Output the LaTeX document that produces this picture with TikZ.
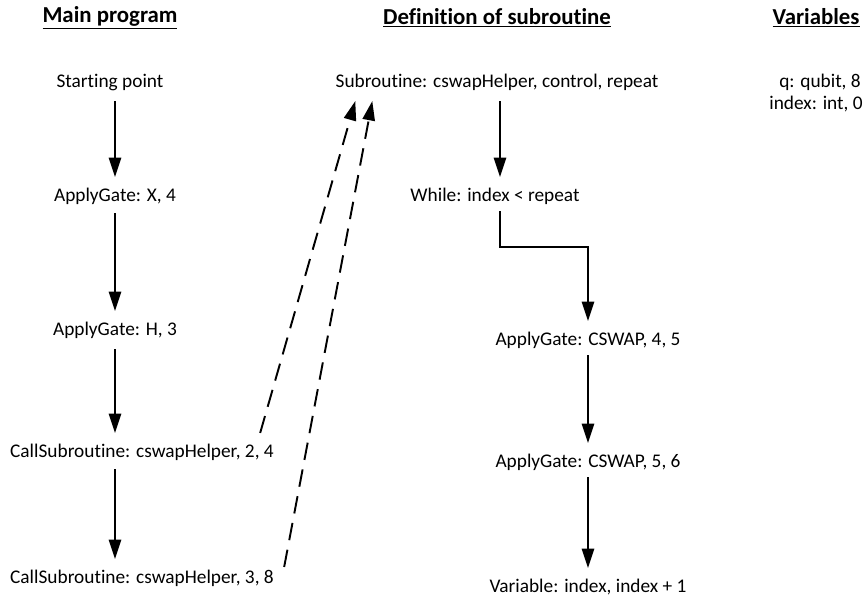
\documentclass[tikz,border=0pt]{standalone}
\usepackage{fontspec}
\setmainfont{Carlito}[Ligatures=NoCommon]
\usetikzlibrary{%
  arrows.meta%
  ,calc%
  ,positioning
}
\tikzset{
  txt/.style={inner xsep=0pt,inner ysep=5.5pt,text height=8pt,text depth=2.3pt,font=\fontsize{11}{13}\selectfont},
  hdr/.style={inner sep=0pt,font=\fontsize{13}{15}\selectfont\bfseries},
  arr/.style={line width=1.1pt,-{Triangle[length=11pt,width=7pt]}},
  darr/.style={arr,dash pattern=on 10pt off 5.5pt}
}
\begin{document}
\begin{tikzpicture}[x=0.02cm,y=-0.02cm]
      \useasboundingbox (0,0) rectangle (865,600);
      %% headings
      \node[hdr] (hmain) at (110,18) {\underline{Main program}};
      \node[hdr] (hdef) at (497,18) {\underline{Definition of subroutine}};
      \node[hdr] (hvar) at (816,18) {\underline{Variables}};
      %% main program
      \node[txt] (start) at (110,82) {Starting point};
      \node[txt] (gx) at (115,196) {ApplyGate: X, 4};
      \node[txt] (gh) at (115,330) {ApplyGate: H, 3};
      \node[txt] (cs1) at (142,452) {CallSubroutine: cswapHelper, 2, 4};
      \node[txt] (cs2) at (142,578) {CallSubroutine: cswapHelper, 3, 8};
      \draw[arr] (start.south -| 115,0) -- (gx);
      \draw[arr] ($(gx.south)+(0,-2)$) -- (gh);
      \draw[arr] (gh) -- (cs1.north -| 115,0);
      \draw[arr] ($(cs1.south -| 115,0)+(0,-2)$) -- (cs2.north -| 115,0);
      %% subroutine
      \node[txt] (sub) at (497,82) {Subroutine: cswapHelper, control, repeat};
      \node[txt] (while) at (495,196) {While: index < repeat};
      \node[txt] (cs45) at (588,340) {ApplyGate: CSWAP, 4, 5};
      \node[txt] (cs56) at (588,462) {ApplyGate: CSWAP, 5, 6};
      \node[txt] (inc) at (588,587) {Variable: index, index + 1};
      \draw[arr] (sub.south -| 500,0) -- (while.north -| 500,0);
      \draw[arr] ($(while.south -| 500,0)+(0,-4)$) |- (588,247) -- (cs45.north);
      \draw[arr] ($(cs45.south)+(0,-4)$) -- (cs56);
      \draw[arr] ($(cs56.south)+(0,-4)$) -- (inc);
      %% calls into the subroutine
      \draw[darr] ($(cs1.north east)+(-14,0)$) -- ($(sub.south west)+(20,0)$);
      \draw[darr] ($(cs2.north east)+(10,8)$) -- ($(sub.south west)+(37,0)$);
      %% variables
      \node[txt] (vq) at (820,82) {q: qubit, 8};
      \node[txt] (vidx) at (816,104) {index: int, 0};
    \end{tikzpicture}
\end{document}
